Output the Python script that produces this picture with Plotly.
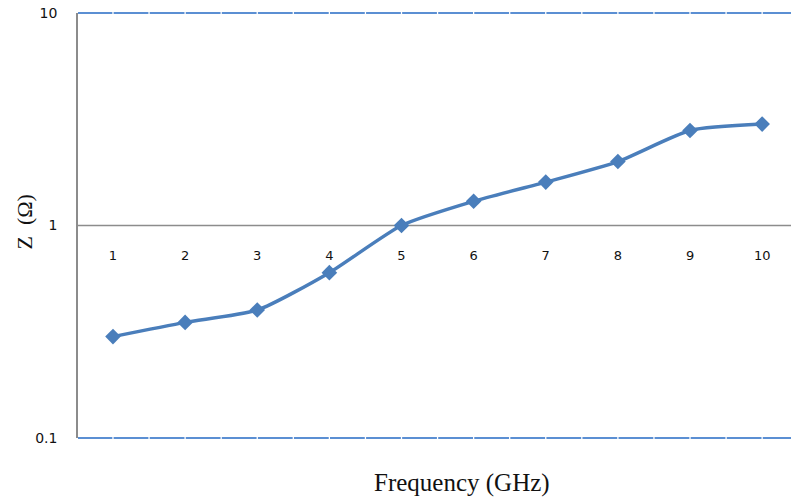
import plotly.graph_objects as go

# Impedance vs frequency
freq_ghz = [1, 2, 3, 4, 5, 6, 7, 8, 9, 10]
impedance = [0.30, 0.35, 0.40, 0.60, 1.0, 1.30, 1.60, 2.0, 2.80, 3.0]
x_tick_labels = ["1", "2", "3", "4", "5", "6", "7", "8", "9", "10"]
y_tick_vals = [0.1, 1, 10]
y_tick_labels = ["0.1", "1", "10"]

X_RANGE = [0.515, 10.40]

BLUE = "#4A7EBB"
GRID_BLUE = "#5B8FD3"
AXIS_GRAY = "#8C8C8C"
TEXT = "#111111"

fig = go.Figure()

fig.add_trace(go.Scatter(
    x=freq_ghz, y=impedance,
    mode="lines+markers",
    line=dict(color=BLUE, width=3.5, shape="spline", smoothing=0.6),
    marker=dict(symbol="diamond", size=12, color=BLUE),
    showlegend=False,
    cliponaxis=False,
))

# Blue lines along the top and bottom decades (paper refs so they are not clipped)
for yp in (0.0, 1.0):
    fig.add_shape(type="line", xref="paper", yref="paper",
                  x0=0, x1=1, y0=yp, y1=yp,
                  line=dict(color=GRID_BLUE, width=2), layer="above")
    # small breaks at every half category
    for k in range(1, 21):
        xb = 0.5 + 0.5 * k
        xp = (xb - X_RANGE[0]) / (X_RANGE[1] - X_RANGE[0])
        if 0 < xp < 1:
            fig.add_shape(type="line", xref="paper", yref="paper",
                          x0=xp - 0.0009, x1=xp + 0.0009, y0=yp, y1=yp,
                          line=dict(color="white", width=3), layer="above")

# Gray line at Z = 1
fig.add_shape(type="line", xref="paper", yref="y",
              x0=0, x1=1, y0=1, y1=1,
              line=dict(color=AXIS_GRAY, width=1.3), layer="below")

fig.update_layout(
    width=791, height=500,
    margin=dict(l=78, r=0, t=13, b=62),
    paper_bgcolor="white", plot_bgcolor="white",
    font=dict(family="DejaVu Sans", size=12, color=TEXT),
    xaxis=dict(
        range=X_RANGE,
        tickvals=freq_ghz, ticktext=x_tick_labels,
        showgrid=False, zeroline=False, showline=False, ticks="",
        anchor="free", position=0.5,
        ticklabelstandoff=20,
        tickfont=dict(size=13, color=TEXT),
    ),
    yaxis=dict(
        type="log", range=[-1, 1],
        tickvals=y_tick_vals, ticktext=y_tick_labels,
        showgrid=False, zeroline=False,
        showline=True, linecolor=AXIS_GRAY, linewidth=1.5,
        ticks="", ticklabelstandoff=16,
        tickfont=dict(size=14, color=TEXT),
    ),
    annotations=[
        dict(text="Frequency (GHz)", xref="paper", yref="paper",
             x=(462 - 78) / 713, y=-45 / 425, xanchor="center", yanchor="middle",
             showarrow=False,
             font=dict(family="Liberation Serif", size=25, color=TEXT)),
        dict(text="Z  (Ω)", xref="paper", yref="paper",
             x=-54 / 713, y=0.5 + 3 / 425, xanchor="center", yanchor="middle",
             textangle=-90, showarrow=False,
             font=dict(family="Liberation Serif", size=22, color=TEXT)),
    ],
)

fig.write_html("out.html")
